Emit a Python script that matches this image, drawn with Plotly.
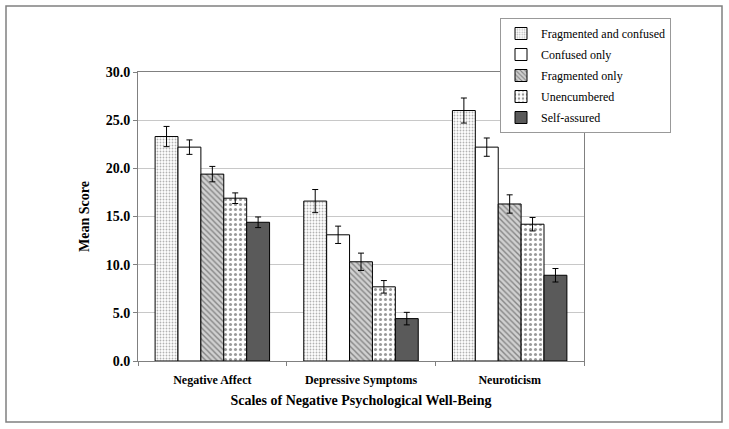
import plotly.graph_objects as go

categories = ["Negative Affect", "Depressive Symptoms", "Neuroticism"]
series_names = ["Fragmented and confused", "Confused only", "Fragmented only",
                "Unencumbered", "Self-assured"]
frag_confused = [23.3, 16.6, 26.0]
frag_confused_err = [1.05, 1.2, 1.3]
confused_only = [22.2, 13.1, 22.2]
confused_only_err = [0.75, 0.9, 0.95]
frag_only = [19.4, 10.3, 16.3]
frag_only_err = [0.8, 0.9, 0.95]
unencumbered = [16.9, 7.7, 14.2]
unencumbered_err = [0.55, 0.65, 0.7]
self_assured = [14.4, 4.4, 8.9]
self_assured_err = [0.55, 0.65, 0.7]

values = [frag_confused, confused_only, frag_only, unencumbered, self_assured]
errors = [frag_confused_err, confused_only_err, frag_only_err, unencumbered_err, self_assured_err]

styles = [
    dict(color="white", pattern=dict(shape=".", fgcolor="#666666", bgcolor="white", size=3, solidity=0.3)),
    dict(color="white"),
    dict(color="#c8c8c8", pattern=dict(shape="\\", fgcolor="#3a3a3a", bgcolor="#d0d0d0", size=4, solidity=0.35)),
    dict(color="white", pattern=dict(shape=".", fgcolor="#333333", bgcolor="white", size=5, solidity=0.3)),
    dict(color="#5a5a5a"),
]

SERIF = "Liberation Serif"

fig = go.Figure()
for name, v, e, st in zip(series_names, values, errors, styles):
    marker = dict(color=st["color"], line=dict(color="black", width=1))
    if "pattern" in st:
        marker["pattern"] = st["pattern"]
    fig.add_trace(go.Bar(
        name=name, x=categories, y=v,
        error_y=dict(type="data", array=e, color="black", thickness=1, width=3),
        marker=marker, legendgroup=name,
    ))

W, H = 729, 429
L, R, T, B = 138, 584, 72, 361
pw, ph = R - L, B - T

def px_x(p):
    return (p - L) / pw

def px_y(p):
    return (B - p) / ph

fig.add_shape(type="rect", xref="paper", yref="paper",
              x0=px_x(6), x1=px_x(722), y0=px_y(422), y1=px_y(6),
              line=dict(color="#808080", width=1.5), fillcolor="rgba(0,0,0,0)", layer="below")

fig.update_layout(
    width=W, height=H,
    margin=dict(l=L, r=W - R, t=T, b=H - B),
    paper_bgcolor="white", plot_bgcolor="white",
    barmode="group", bargap=0.23, bargroupgap=0,
    font=dict(family=SERIF, color="black"),
    showlegend=True,
    legend=dict(x=px_x(500), y=px_y(18), xanchor="left", yanchor="top",
                bordercolor="#999999", borderwidth=1, bgcolor="white",
                font=dict(family=SERIF, size=12, color="black"),
                tracegroupgap=2, traceorder="grouped", itemwidth=30),
    xaxis=dict(
        type="category", showline=True, linecolor="#808080", linewidth=1, mirror=True,
        ticks="outside", tickson="boundaries", ticklen=4, tickcolor="#808080",
        ticklabelstandoff=8,
        tickfont=dict(family=SERIF, size=12, color="black", weight="bold"),
        title=dict(text="Scales of Negative Psychological Well-Being",
                   font=dict(family=SERIF, size=14, color="black", weight="bold"), standoff=8),
        showgrid=False,
    ),
    yaxis=dict(
        range=[0, 30], dtick=5, tickformat=".1f",
        showline=True, linecolor="#808080", linewidth=1, mirror=True,
        ticks="outside", ticklen=4, tickcolor="#808080",
        showgrid=True, gridcolor="#c8c8c8", gridwidth=1,
        tickfont=dict(family=SERIF, size=14, color="black", weight="bold"),
        title=dict(text="Mean Score", font=dict(family=SERIF, size=14, color="black", weight="bold"), standoff=12),
        zeroline=False,
    ),
)

fig.write_html("out.html", config={"displayModeBar": False},
               post_script="document.body.style.margin='0';document.body.style.padding='0';")
